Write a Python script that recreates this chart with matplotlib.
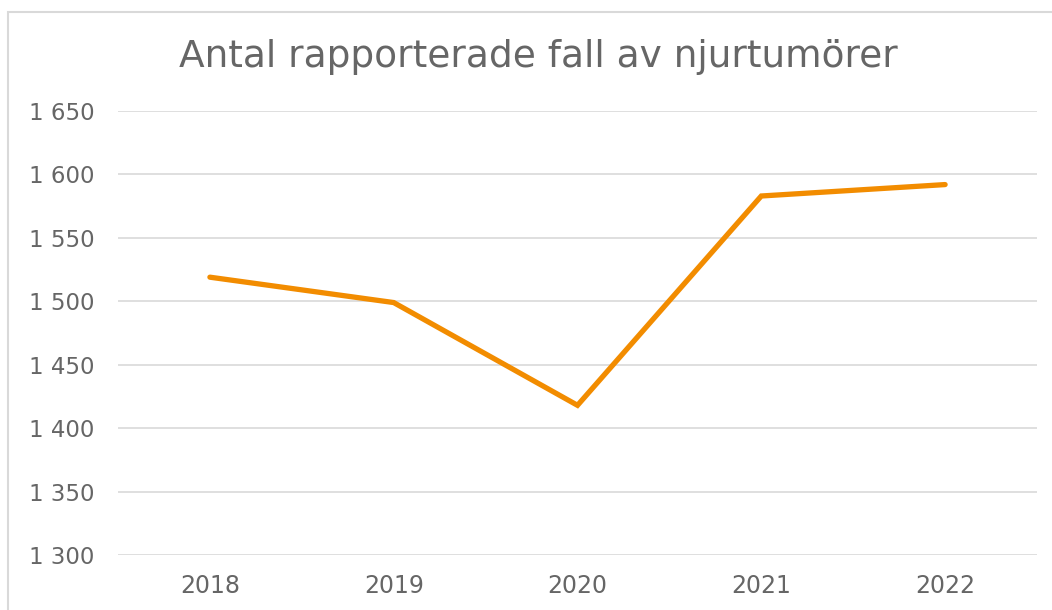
import matplotlib.pyplot as plt
from matplotlib.patches import Rectangle
from matplotlib.ticker import FuncFormatter

years = ["2018", "2019", "2020", "2021", "2022"]
cases = [1519, 1499, 1418, 1583, 1592]
yticks = [1300, 1350, 1400, 1450, 1500, 1550, 1600, 1650]

text_color = "#666666"

fig = plt.figure(figsize=(10.52, 6.10), dpi=100)
fig.patch.set_facecolor("white")

# chart frame (runs off the right and bottom edges)
fig.patches.append(Rectangle((8 / 1052, -0.05), 1.2, 1 - 12 / 610 + 0.05,
                             transform=fig.transFigure, fill=False,
                             edgecolor="#d9d9d9", linewidth=1.5))

ax = fig.add_axes([118 / 1052, 1 - 555 / 610, (1037 - 118) / 1052, (555 - 111) / 610])
x = list(range(len(years)))
ax.plot(x, cases, color="#f28c00", linewidth=3.8, solid_capstyle="round",
        solid_joinstyle="miter", zorder=3)

ax.set_xlim(-0.5, len(years) - 0.5)
ax.set_ylim(1300, 1650)
ax.set_yticks(yticks)
ax.yaxis.set_major_formatter(FuncFormatter(lambda v, p: f"{int(v):,}".replace(",", " ")))
ax.set_xticks(x)
ax.set_xticklabels(years)

ax.grid(axis="y", color="#d9d9d9", linewidth=1.2)
ax.set_axisbelow(True)
for s in ax.spines.values():
    s.set_visible(False)
ax.tick_params(axis="both", length=0, colors=text_color)
ax.tick_params(axis="y", pad=17, labelsize=16.5)
ax.tick_params(axis="x", pad=14, labelsize=17)

fig.text(538 / 1052, 1 - 57 / 610, "Antal rapporterade fall av njurtumörer",
         ha="center", va="center", fontsize=27, color=text_color)

fig.savefig("out.png", dpi=100)
